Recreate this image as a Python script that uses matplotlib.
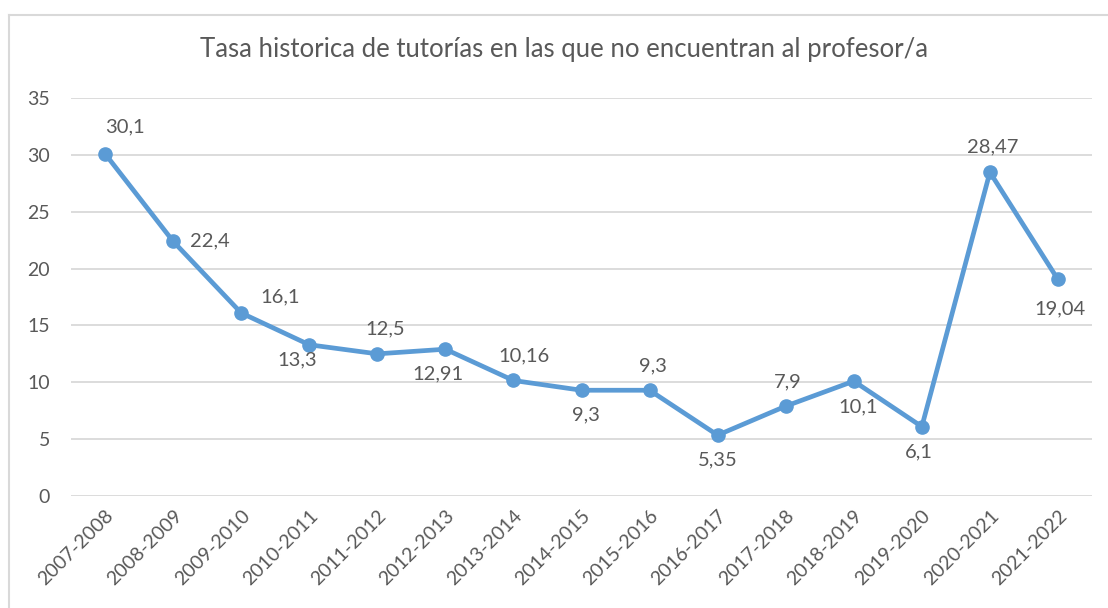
import matplotlib
matplotlib.use("Agg")
from matplotlib import pyplot as plt
from matplotlib.lines import Line2D

# data
cursos = ["2007-2008", "2008-2009", "2009-2010", "2010-2011", "2011-2012",
          "2012-2013", "2013-2014", "2014-2015", "2015-2016", "2016-2017",
          "2017-2018", "2018-2019", "2019-2020", "2020-2021", "2021-2022"]
tasa = [30.1, 22.4, 16.1, 13.3, 12.5, 12.91, 10.16, 9.3, 9.3, 5.35,
        7.9, 10.1, 6.1, 28.47, 19.04]
etiquetas = ["30,1", "22,4", "16,1", "13,3", "12,5", "12,91", "10,16", "9,3",
             "9,3", "5,35", "7,9", "10,1", "6,1", "28,47", "19,04"]
titulo = "Tasa historica de tutorías en las que no encuentran al profesor/a"

# label offsets in pixels (dx, dy) from each point
offsets_px = [(20, 27), (37, 0), (39, 16), (-12, -15), (8, 25), (-7, -25),
              (11, 25), (4, -25), (3, 24), (0, -25), (2, 24), (4, -26),
              (-3, -25), (3, 25), (2, -29)]

gris = "#595959"
azul = "#5B9BD5"
plt.rcParams["font.family"] = ["Lato", "DejaVu Sans"]

fig = plt.figure(figsize=(11.08, 6.08), dpi=100)
ax = fig.add_axes([71 / 1108, 1 - 496 / 608, (1092 - 71) / 1108, (496 - 98) / 608])

x = list(range(len(cursos)))
ax.plot(x, tasa, color=azul, lw=3.4, marker="o", ms=9.5, solid_capstyle="round",
        zorder=3, clip_on=False)

for i, (v, lab) in enumerate(zip(tasa, etiquetas)):
    dx, dy = offsets_px[i]
    ax.annotate(lab, (i, v), xytext=(dx * 0.72, dy * 0.72), textcoords="offset points",
                ha="center", va="center", fontsize=14.5, color=gris)

ax.set_xlim(-0.5, len(cursos) - 0.5)
ax.set_ylim(0, 35)
ax.set_yticks(range(0, 36, 5))
ax.set_xticks(x)
ax.set_xticklabels(cursos, rotation=45, ha="right", rotation_mode="anchor")
ax.grid(axis="y", color="#d9d9d9", lw=1.3)
ax.set_axisbelow(True)
for s in ax.spines.values():
    s.set_visible(False)
ax.tick_params(length=0, labelsize=14, colors=gris)
ax.tick_params(axis="y", pad=15)
ax.tick_params(axis="x", pad=8)

fig.text(564 / 1108, 1 - 50 / 608, titulo, ha="center", va="center", fontsize=18.5, color=gris)

# chart frame (left and top edges visible in the reference)
fig.add_artist(Line2D([9 / 1108, 9 / 1108], [0, 1 - 15 / 608], transform=fig.transFigure,
                      color="#d9d9d9", lw=1.5))
fig.add_artist(Line2D([9 / 1108, 1], [1 - 15 / 608, 1 - 15 / 608], transform=fig.transFigure,
                      color="#d9d9d9", lw=1.5))

fig.savefig("out.png", dpi=100)
